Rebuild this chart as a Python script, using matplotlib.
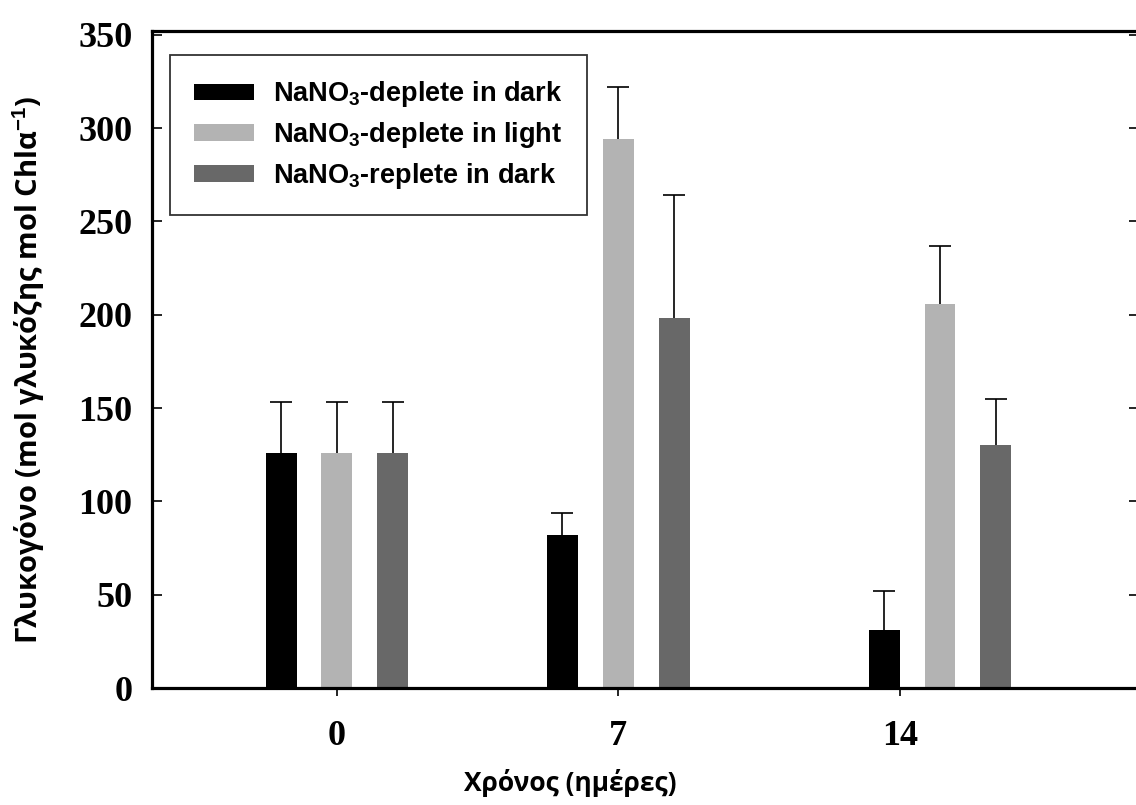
import numpy as np
import matplotlib.pyplot as plt

plt.rcParams['mathtext.fontset'] = 'custom'
plt.rcParams['mathtext.rm'] = 'Liberation Sans:bold'
plt.rcParams['mathtext.it'] = 'Liberation Sans:bold'
plt.rcParams['mathtext.bf'] = 'Liberation Sans:bold'

# data
days = [0, 7, 14]
group_x = [0, 7, 15]          # bar groups as placed in the original (last group sits at 15)
labels = ['NaNO$_3$-deplete in dark', 'NaNO$_3$-deplete in light', 'NaNO$_3$-replete in dark']
colors = ['#000000', '#b3b3b3', '#686868']
dark_deplete = [126, 82, 31]
dark_deplete_err = [27, 12, 21]
light_deplete = [126, 294, 206]
light_deplete_err = [27, 28, 31]
dark_replete = [126, 198, 130]
dark_replete_err = [27, 66, 25]

values = [dark_deplete, light_deplete, dark_replete]
errors = [dark_deplete_err, light_deplete_err, dark_replete_err]

fig = plt.figure(figsize=(11.36, 8.05), dpi=100)
ax = fig.add_axes([152/1136, 1-688/805, (1139-152)/1136, (688-31)/805])

width = 0.77
offsets = [-1.39, 0, 1.39]
x = np.array(group_x, dtype=float)
handles = []
for vals, errs, c, lab, off in zip(values, errors, colors, labels, offsets):
    b = ax.bar(x + off, vals, width, color=c, edgecolor=c, linewidth=0, label=lab, zorder=2)
    handles.append(b)
    eb = ax.errorbar(x + off, vals, yerr=[np.zeros(len(vals)), errs], fmt='none',
                     ecolor='black', elinewidth=1.2, capsize=8, capthick=1.2, zorder=3)
    eb[1][0].set_visible(False)   # only the upper cap

ax.set_xlim(-4.6, 19.95)
ax.set_ylim(0, 352)
ax.set_xticks(days)
ax.set_xticklabels([str(d) for d in days])
ax.set_yticks(np.arange(0, 351, 50))

for s in ax.spines.values():
    s.set_linewidth(2.3)
ax.tick_params(axis='y', direction='in', length=7, width=1.2, right=True, pad=14)
ax.tick_params(axis='x', direction='out', length=6, width=1.2, pad=17)
for t in ax.get_xticklabels() + ax.get_yticklabels():
    t.set_fontfamily('Liberation Serif')
    t.set_fontweight('bold')
    t.set_fontsize(26)

leg = ax.legend(handles=handles, loc='upper left', bbox_to_anchor=(170/1136, 1-55/805),
                bbox_transform=fig.transFigure, frameon=True, fancybox=False,
                prop={'family': 'Liberation Sans', 'weight': 'bold', 'size': 19.5},
                handlelength=2.2, handleheight=0.55, handletextpad=0.7,
                labelspacing=0.4, borderpad=0.9, borderaxespad=0)
leg.get_frame().set_edgecolor('black')
leg.get_frame().set_linewidth(1.3)

fig.text(570/1136, 1-783/805, 'Χρόνος (ημέρες)', ha='center', va='center',
         fontsize=19, fontweight='bold', family='Open Sans')
fig.text(29/1136, 1-370/805, 'Γλυκογόνο (mol γλυκόζης mol Chlα$^{-1}$)', ha='center', va='center',
         rotation=90, fontsize=21, fontweight='bold', family='Open Sans')

plt.savefig('out.png', dpi=100)
